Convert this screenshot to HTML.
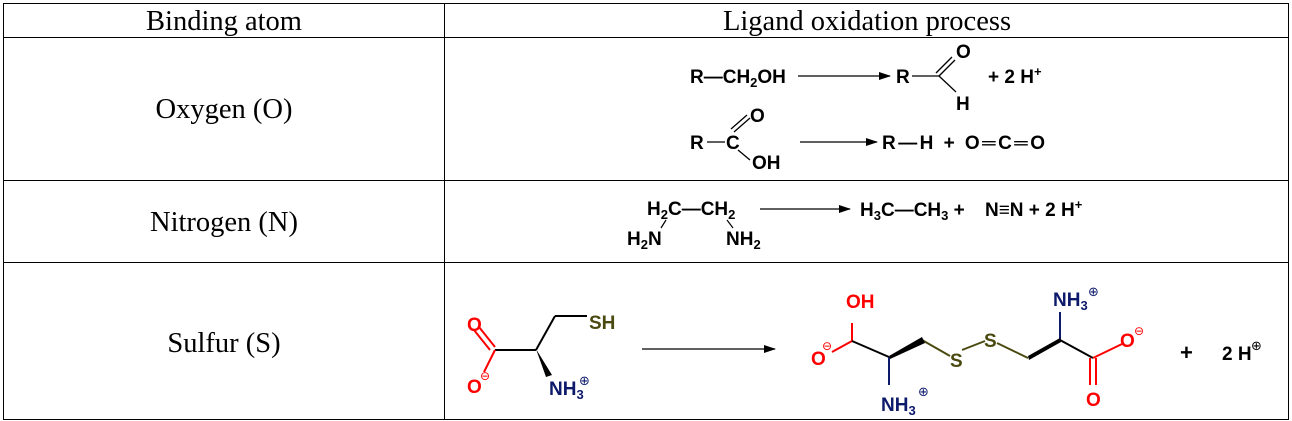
<!DOCTYPE html>
<html><head><style>
html,body{margin:0;padding:0;background:#fff;}
svg{display:block;}
.t{font-family:"Liberation Serif",serif;font-size:28.5px;fill:#000;}
.c{font-family:"Liberation Sans",sans-serif;font-weight:bold;font-size:19px;fill:#000;}
.s{font-size:13px;}
.r{fill:#f00;}
.b{fill:#0d1a6b;}
.y{fill:#4a4a10;}
.m{font-family:"Liberation Sans",sans-serif;font-weight:bold;font-size:22px;}
</style></head><body>
<svg width="1292" height="421" viewBox="0 0 1292 421" xmlns="http://www.w3.org/2000/svg">
<defs><marker id="a" markerWidth="12" markerHeight="8" refX="11" refY="4" orient="auto" markerUnits="userSpaceOnUse"><path d="M0,0 L12,4 L0,8 z" fill="#000"/></marker></defs>
<g stroke="#000" stroke-width="1" fill="none">
<rect x="3.5" y="3.5" width="1285" height="416"/>
<line x1="444.5" y1="3" x2="444.5" y2="420"/>
<line x1="3" y1="37.5" x2="1289" y2="37.5"/>
<line x1="3" y1="180.5" x2="1289" y2="180.5"/>
<line x1="3" y1="262.5" x2="1289" y2="262.5"/>
</g>
<text class="t" x="224" y="30" text-anchor="middle">Binding atom</text>
<text class="t" x="867" y="30" text-anchor="middle">Ligand oxidation process</text>
<text class="t" x="224" y="118" text-anchor="middle">Oxygen (O)</text>
<text class="t" x="224" y="231" text-anchor="middle">Nitrogen (N)</text>
<text class="t" x="224" y="352" text-anchor="middle">Sulfur (S)</text>

<!-- row O -->
<text class="c" x="690" y="83">R—CH<tspan class="s" dy="4">2</tspan><tspan dy="-4">OH</tspan></text>
<line x1="798" y1="76" x2="890" y2="76" stroke="#000" stroke-width="1.3" marker-end="url(#a)"/>
<text class="c" x="896" y="83">R</text>
<g stroke="#000" stroke-width="1.3" fill="none">
<line x1="912" y1="76" x2="939" y2="76"/>
<line x1="939" y1="76" x2="955" y2="60"/><line x1="936" y1="73" x2="952" y2="57"/>
<line x1="939" y1="76" x2="956" y2="92"/>
</g>
<text class="c" x="956" y="58">O</text>
<text class="c" x="956" y="110">H</text>
<text class="c" x="988" y="83">+ 2 H<tspan class="s" dy="-7">+</tspan></text>

<text class="c" x="690" y="149">R</text>
<g stroke="#000" stroke-width="1.3" fill="none">
<line x1="707" y1="142" x2="725" y2="142"/>
<line x1="734" y1="132" x2="750" y2="118"/><line x1="731" y1="129" x2="747" y2="115"/>
<line x1="738" y1="150" x2="750" y2="160"/>
</g>
<text class="c" x="726" y="149">C</text>
<text class="c" x="750" y="122">O</text>
<text class="c" x="752" y="169">OH</text>
<line x1="800" y1="142" x2="877" y2="142" stroke="#000" stroke-width="1.3" marker-end="url(#a)"/>
<text class="c" x="882" y="149" textLength="163">R—H + O═C═O</text>

<!-- row N -->
<text class="c" x="647" y="215">H<tspan class="s" dy="4">2</tspan><tspan dy="-4">C—CH</tspan><tspan class="s" dy="4">2</tspan></text>
<g stroke="#000" stroke-width="1.2"><line x1="666" y1="220" x2="661" y2="228"/><line x1="727" y1="220" x2="733" y2="228"/></g>
<text class="c" x="627" y="245">H<tspan class="s" dy="4">2</tspan><tspan dy="-4">N</tspan></text>
<text class="c" x="726" y="245">NH<tspan class="s" dy="4">2</tspan></text>
<line x1="760" y1="209" x2="850" y2="209" stroke="#000" stroke-width="1.3" marker-end="url(#a)"/>
<text class="c" x="860" y="216">H<tspan class="s" dy="4">3</tspan><tspan dy="-4">C—CH</tspan><tspan class="s" dy="4">3</tspan><tspan dy="-4"> +  </tspan></text>
<text class="c" x="985" y="216">N≡N  + 2 H<tspan class="s" dy="-7">+</tspan></text>

<!-- row S left -->
<g stroke-width="2" fill="none">
<line x1="474" y1="330" x2="490" y2="350" stroke="#f00"/><line x1="479" y1="327" x2="495" y2="347" stroke="#f00"/>
<line x1="495" y1="350" x2="536" y2="350" stroke="#000"/>
<line x1="495" y1="350" x2="484" y2="372" stroke="#f00"/>
<line x1="536" y1="350" x2="555" y2="316" stroke="#000"/>
<line x1="555" y1="316" x2="587" y2="316" stroke="#000"/>
</g>
<path d="M536,349 L552,375 L546,377 Z" fill="#000"/>
<text class="c r" x="467" y="331">O</text>
<text class="c r" x="467" y="393">O</text><text class="r" x="480" y="380" font-family="DejaVu Sans" font-size="12">⊖</text>
<text class="c y" x="589" y="329">SH</text>
<text class="c b" x="549" y="395">NH<tspan class="s" dy="4">3</tspan></text><text class="b" x="579" y="385" font-family="DejaVu Sans" font-size="13">⊕</text>
<line x1="642" y1="349" x2="775" y2="349" stroke="#000" stroke-width="1.3" marker-end="url(#a)"/>

<!-- row S right -->
<g stroke-width="2" fill="none">
<line x1="832" y1="352" x2="852" y2="341" stroke="#f00"/>
<line x1="852" y1="341" x2="852" y2="323" stroke="#f00"/>
<line x1="852" y1="341" x2="889" y2="357" stroke="#000"/>
<line x1="889" y1="357" x2="889" y2="385" stroke="#0d1a6b"/>
<line x1="922" y1="340" x2="950" y2="356" stroke="#4a4a10"/>
<line x1="962" y1="350" x2="985" y2="341" stroke="#4a4a10"/>
<line x1="997" y1="343" x2="1028" y2="358" stroke="#4a4a10"/>
<line x1="1060" y1="340" x2="1060" y2="312" stroke="#0d1a6b"/>
<line x1="1060" y1="340" x2="1093" y2="358" stroke="#000"/>
<line x1="1093" y1="358" x2="1122" y2="344" stroke="#f00"/>
<line x1="1090" y1="358" x2="1090" y2="385" stroke="#f00"/><line x1="1096" y1="358" x2="1096" y2="385" stroke="#f00"/>
</g>
<path d="M889,356 L922,337 L925,343 L890,359 Z" fill="#000"/>
<path d="M1028,356 L1060,338 L1061,342 L1029,360 Z" fill="#000"/>
<text class="c r" x="846" y="308">OH</text>
<text class="c r" x="811" y="365">O</text><text class="r" x="822" y="350" font-family="DejaVu Sans" font-size="12">⊖</text>
<text class="c b" x="881" y="411">NH<tspan class="s" dy="4">3</tspan></text><text class="b" x="918" y="396" font-family="DejaVu Sans" font-size="13">⊕</text>
<text class="c y" x="950" y="367">S</text>
<text class="c y" x="984" y="347">S</text>
<text class="c b" x="1053" y="306">NH<tspan class="s" dy="4">3</tspan></text><text class="b" x="1088" y="296" font-family="DejaVu Sans" font-size="13">⊕</text>
<text class="c r" x="1120" y="347">O</text><text class="r" x="1134" y="335" font-family="DejaVu Sans" font-size="12">⊖</text>
<text class="c r" x="1086" y="406">O</text>
<text class="m" x="1180" y="360">+</text>
<text class="c" x="1222" y="360">2 H</text><text x="1251" y="350" font-family="DejaVu Sans" font-size="13">⊕</text>
</svg>
</body></html>
